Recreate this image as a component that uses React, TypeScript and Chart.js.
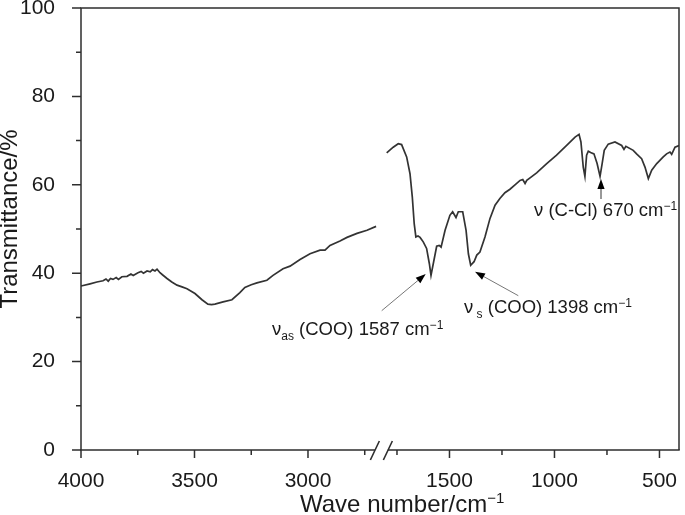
import React, { useEffect, useRef } from "react";
import { Chart, registerables } from "chart.js";

Chart.register(...registerables);

// ---- Data (wavenumber cm^-1, transmittance %) ----
const LEFT_WN = [4000, 3960, 3930, 3903, 3890, 3880, 3870, 3859, 3845, 3835, 3820, 3797, 3780, 3770, 3749, 3735, 3725, 3709, 3695, 3685, 3674, 3665, 3652, 3640, 3621, 3600, 3577, 3555, 3533, 3498, 3467, 3441, 3425, 3410, 3374, 3335, 3300, 3278, 3250, 3225, 3181, 3154, 3110, 3079, 3035, 2991, 2947, 2925, 2903, 2859, 2828, 2784, 2740, 2700];
const LEFT_T = [37.1, 37.6, 38.0, 38.3, 38.7, 38.2, 38.8, 38.6, 39.0, 38.6, 39.2, 39.3, 39.8, 39.5, 40.1, 40.4, 40.0, 40.5, 40.3, 40.8, 40.5, 40.9, 40.1, 39.6, 38.8, 38.0, 37.3, 36.9, 36.5, 35.4, 34.0, 33.0, 32.9, 33.0, 33.5, 34.0, 35.6, 36.8, 37.4, 37.8, 38.4, 39.5, 41.0, 41.6, 43.1, 44.4, 45.2, 45.2, 46.3, 47.3, 48.1, 49.0, 49.7, 50.6];

const RIGHT_WN = [1799, 1768, 1744, 1728, 1704, 1688, 1677, 1668, 1660, 1650, 1640, 1625, 1609, 1596, 1588, 1577, 1561, 1549, 1540, 1521, 1498, 1485, 1469, 1458, 1437, 1421, 1410, 1399, 1383, 1370, 1355, 1331, 1307, 1283, 1260, 1236, 1212, 1188, 1164, 1151, 1140, 1132, 1110, 1085, 1037, 990, 942, 902, 883, 874, 863, 855, 847, 839, 828, 812, 797, 783, 773, 763, 744, 712, 680, 669, 660, 625, 609, 585, 569, 553, 537, 513, 482, 466, 450, 442, 426, 407];
const RIGHT_T = [67.2, 68.5, 69.3, 69.1, 66.3, 62.5, 57.2, 51.2, 48.2, 48.4, 48.1, 47.1, 45.6, 42.2, 39.5, 42.2, 46.1, 46.3, 45.9, 49.7, 53.1, 53.9, 52.6, 53.9, 53.9, 49.7, 44.4, 41.8, 42.6, 44.1, 44.8, 48.2, 52.4, 55.4, 56.9, 58.2, 59.0, 60.0, 61.0, 61.2, 60.3, 61.0, 61.8, 62.7, 64.8, 66.7, 68.9, 70.8, 71.4, 69.7, 64.0, 61.9, 66.7, 67.6, 67.3, 67.0, 64.8, 61.9, 64.8, 67.8, 69.2, 69.7, 68.9, 68.0, 68.7, 67.8, 67.0, 65.9, 64.0, 61.4, 63.3, 64.8, 66.3, 67.0, 67.4, 66.9, 68.5, 68.9];

const X_TICK_WN = [4000, 3750, 3500, 3250, 3000, 2750, 1750, 1500, 1250, 1000, 750, 500];
const X_LABELED = [4000, 3500, 3000, 1500, 1000, 500];
const Y_LABELED = [0, 20, 40, 60, 80, 100];
const X_END_WN = 407;

// broken-axis transform
const LEFT_RATE = 0.227;
const RIGHT_RATE = 0.21;
const BREAK_HI = 2750;
const BREAK_LO = 1750;
const BREAK_GAP = 32.25;
function toAxis(w: number): number {
  if (w >= 2250) return (4000 - w) * LEFT_RATE;
  return (4000 - BREAK_HI) * LEFT_RATE + BREAK_GAP + (BREAK_LO - w) * RIGHT_RATE;
}

const FONT = "'Liberation Sans', Arial, Helvetica, sans-serif";
const INK = "#1a1a1a";
const AXIS = "#2e2e2e";
const ANN = 18.5;

function drawRich(ctx: CanvasRenderingContext2D, x: number, y: number, parts: { t: string; s: number; dy: number }[]) {
  let cx = x;
  ctx.textAlign = "left";
  ctx.textBaseline = "alphabetic";
  for (const p of parts) {
    ctx.font = `${p.s}px ${FONT}`;
    ctx.fillText(p.t, cx, y + p.dy);
    cx += ctx.measureText(p.t).width;
  }
}

function arrow(ctx: CanvasRenderingContext2D, x0: number, y0: number, x1: number, y1: number, color: string) {
  const ang = Math.atan2(y1 - y0, x1 - x0);
  const len = 10, half = 3.6;
  const bx = x1 - Math.cos(ang) * len, by = y1 - Math.sin(ang) * len;
  ctx.strokeStyle = color;
  ctx.lineWidth = 1;
  ctx.beginPath();
  ctx.moveTo(x0, y0);
  ctx.lineTo(bx, by);
  ctx.stroke();
  ctx.fillStyle = "#000";
  ctx.beginPath();
  ctx.moveTo(x1, y1);
  ctx.lineTo(bx + Math.sin(ang) * half, by - Math.cos(ang) * half);
  ctx.lineTo(bx - Math.sin(ang) * half, by + Math.cos(ang) * half);
  ctx.closePath();
  ctx.fill();
}

const decorPlugin = {
  id: "decor",
  afterDraw(chart: any) {
    const { ctx, chartArea } = chart;
    const { left, right, top, bottom } = chartArea;
    const xs = chart.scales.x;
    const ys = chart.scales.y;
    ctx.save();
    ctx.strokeStyle = AXIS;
    ctx.lineWidth = 1.5;
    ctx.lineCap = "butt";
    const brk = xs.getPixelForValue((toAxis(BREAK_HI) + toAxis(BREAK_LO)) / 2);
    ctx.beginPath();
    ctx.moveTo(left, bottom);
    ctx.lineTo(left, top);
    ctx.lineTo(right, top);
    ctx.lineTo(right, bottom);
    ctx.stroke();
    ctx.beginPath();
    ctx.moveTo(left - 0.75, bottom);
    ctx.lineTo(brk - 6, bottom);
    ctx.moveTo(brk + 7, bottom);
    ctx.lineTo(right + 0.75, bottom);
    ctx.stroke();
    ctx.lineWidth = 1.6;
    ctx.beginPath();
    ctx.moveTo(brk - 10.5, bottom + 10);
    ctx.lineTo(brk - 1.5, bottom - 9);
    ctx.moveTo(brk + 2.5, bottom + 10);
    ctx.lineTo(brk + 11.5, bottom - 9);
    ctx.stroke();
    ctx.lineWidth = 1.5;
    ctx.beginPath();
    for (const w of X_TICK_WN) {
      const px = xs.getPixelForValue(toAxis(w));
      const l = X_LABELED.includes(w) ? 8 : 5;
      ctx.moveTo(px, bottom);
      ctx.lineTo(px, bottom + l);
    }
    for (let v = 0; v <= 100; v += 10) {
      const py = ys.getPixelForValue(v);
      const l = Y_LABELED.includes(v) ? 9 : 5;
      ctx.moveTo(left, py);
      ctx.lineTo(left - l, py);
    }
    ctx.stroke();

    ctx.fillStyle = INK;
    ctx.save();
    ctx.translate(17, 219);
    ctx.rotate(-Math.PI / 2);
    ctx.font = `24px ${FONT}`;
    ctx.textAlign = "center";
    ctx.textBaseline = "alphabetic";
    ctx.fillText("Transmittance/%", 0, 0);
    ctx.restore();
    drawRich(ctx, 300, 512, [
      { t: "Wave number/cm", s: 24, dy: 0 },
      { t: "\u22121", s: 15, dy: -9 },
    ]);

    ctx.fillStyle = INK;
    drawRich(ctx, 272, 335, [
      { t: "\u03bd", s: ANN, dy: 0 },
      { t: "as", s: 12, dy: 5 },
      { t: " (COO) 1587 cm", s: ANN, dy: 0 },
      { t: "\u22121", s: 12, dy: -6 },
    ]);
    drawRich(ctx, 464, 313, [
      { t: "\u03bd", s: ANN, dy: 0 },
      { t: " s", s: 12, dy: 5 },
      { t: " (COO) 1398 cm", s: ANN, dy: 0 },
      { t: "\u22121", s: 12, dy: -6 },
    ]);
    drawRich(ctx, 534, 216, [
      { t: "\u03bd (C-Cl) 670 cm", s: ANN, dy: 0 },
      { t: "\u22121", s: 12, dy: -6 },
    ]);
    arrow(ctx, 381.7, 310.7, 425.7, 274, "#777");
    arrow(ctx, 518.3, 295.7, 475, 271.7, "#777");
    arrow(ctx, 601, 199, 601, 179, "#333");
    ctx.restore();
  },
};

export default function App() {
  const ref = useRef<HTMLCanvasElement | null>(null);
  useEffect(() => {
    if (!ref.current) return;
    const leftData = LEFT_WN.map((w, i) => ({ x: toAxis(w), y: LEFT_T[i] }));
    const rightData = RIGHT_WN.map((w, i) => ({ x: toAxis(w), y: RIGHT_T[i] }));
    const lineStyle = {
      borderColor: "#333333",
      borderWidth: 1.7,
      pointRadius: 0,
      tension: 0,
      fill: false,
    };
    const chart = new Chart(ref.current, {
      type: "line",
      data: {
        datasets: [
          { label: "high", data: leftData, ...lineStyle },
          { label: "low", data: rightData, ...lineStyle },
        ],
      },
      options: {
        animation: false,
        responsive: false,
        events: [],
        layout: { padding: { top: 8, right: 6, left: 0, bottom: 0 } },
        plugins: { legend: { display: false }, tooltip: { enabled: false } },
        scales: {
          x: {
            type: "linear",
            min: 0,
            max: toAxis(X_END_WN),
            grid: { display: false },
            border: { display: false },
            afterBuildTicks: (scale: any) => {
              scale.ticks = X_TICK_WN.map((w) => ({ value: toAxis(w) }));
            },
            afterFit: (scale: any) => {
              scale.height = 65;
              scale.paddingLeft = 0;
              scale.paddingRight = 0;
            },
            ticks: {
              autoSkip: false,
              maxRotation: 0,
              padding: 11,
              color: INK,
              font: { family: FONT, size: 21 },
              callback: (_v: any, i: number) => (X_LABELED.includes(X_TICK_WN[i]) ? String(X_TICK_WN[i]) : ""),
            },
          },
          y: {
            type: "linear",
            min: 0,
            max: 100,
            grid: { display: false },
            border: { display: false },
            afterFit: (scale: any) => {
              scale.width = 81;
              scale.paddingTop = 0;
              scale.paddingBottom = 0;
            },
            ticks: {
              stepSize: 10,
              autoSkip: false,
              padding: 18,
              color: INK,
              font: { family: FONT, size: 21 },
              callback: (v: any) => (Y_LABELED.includes(Number(v)) ? String(v) : ""),
            },
          },
        },
      },
      plugins: [decorPlugin],
    });
    return () => chart.destroy();
  }, []);
  return (
    <div style={{ position: "absolute", left: 0, top: 0, width: 685, height: 515, background: "#fff" }}>
      <canvas ref={ref} width={685} height={515} />
    </div>
  );
}
